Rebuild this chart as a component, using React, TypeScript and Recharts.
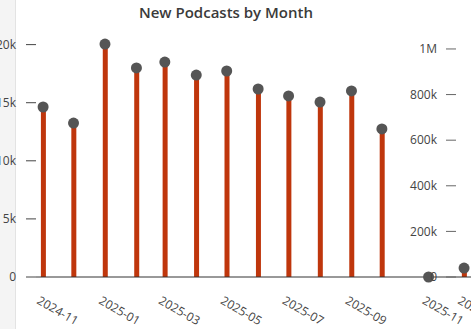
import { Bar, ComposedChart, Line, XAxis, YAxis } from "recharts";

const months = [
  "2024-11", "2024-12", "2025-01", "2025-02", "2025-03", "2025-04", "2025-05",
  "2025-06", "2025-07", "2025-08", "2025-09", "2025-10", "2025-11", "2025-12",
];
// point dates as placed on the time axis (the last two sit mid-month)
const pointDates = [
  "2024-11-01", "2024-12-01", "2025-01-01", "2025-02-01", "2025-03-01", "2025-04-01",
  "2025-05-01", "2025-06-01", "2025-07-01", "2025-08-01", "2025-09-01", "2025-10-01",
  "2025-11-16", "2025-12-21",
];
const newPodcasts = [
  14630, 13250, 20050, 17990, 18500, 17380, 17730, 16180, 15580, 15060, 16010, 12740, 0, 770,
];
const labelledMonths = ["2024-11", "2025-01", "2025-03", "2025-05", "2025-07", "2025-09", "2025-11", "2025-12"];
const leftTicks = [0, 5000, 10000, 15000, 20000];
const rightTicks = [0, 200000, 400000, 600000, 800000, 1000000];

const rows = months.map((month, i) => ({
  month,
  t: Date.parse(pointDates[i]),
  count: newPodcasts[i],
}));
const xTicks = rows.filter((r) => labelledMonths.includes(r.month)).map((r) => r.t);
const xDomain = [Date.parse("2024-10-25"), Date.parse("2026-02-24")];

const FONT = "'Open Sans', 'Segoe UI', sans-serif";
const BAR = "#bf360c";
const DOT = "#555555";

const fmtK = (v: number) => (v === 0 ? "0" : v >= 1000000 ? `${v / 1000000}M` : `${v / 1000}k`);

function MonthTick({ x, y, payload }: any) {
  const label = new Date(payload.value).toISOString().slice(0, 7);
  return (
    <text
      transform={`translate(${x - 7},${y + 18}) rotate(30)`}
      textAnchor="start"
      fontSize={12}
      fontFamily={FONT}
      fill="#444"
    >
      {label}
    </text>
  );
}

export default function App() {
  return (
    <div
      style={{
        position: "fixed",
        left: 0,
        top: 0,
        width: 471,
        height: 329,
        overflow: "hidden",
        background: "#fff",
      }}
    >
      <div
        style={{
          position: "absolute",
          left: 0,
          top: 0,
          width: 15,
          height: 329,
          background: "#f4f4f4",
          borderRight: "1px solid #e3e3e3",
        }}
      />
      <div
        style={{
          position: "absolute",
          left: 0,
          top: 2,
          width: 452,
          textAlign: "center",
          fontFamily: FONT,
          fontWeight: 600,
          fontSize: 15,
          lineHeight: "20px",
          color: "#3a3a3a",
        }}
      >
        New Podcasts by Month
      </div>

      <div style={{ position: "absolute", left: -30, top: 0 }}>
        <ComposedChart width={560} height={329} data={rows} margin={{ top: 33, right: 0, bottom: 0, left: 0 }}>
          <XAxis
            dataKey="t"
            type="number"
            scale="time"
            domain={xDomain}
            ticks={xTicks}
            tick={<MonthTick />}
            tickLine={false}
            axisLine={{ stroke: "#333" }}
            height={52}
            interval={0}
          />
          <YAxis
            type="number"
            domain={[0, 21000]}
            ticks={leftTicks}
            tickFormatter={fmtK}
            width={66}
            axisLine={false}
            tickSize={10}
            tickMargin={10}
            tickLine={{ stroke: "#444" }}
            tick={{ fontSize: 12, fontFamily: FONT, fill: "#444" }}
          />
          <Bar dataKey="count" fill={BAR} barSize={5} isAnimationActive={false} />
          <Line
            dataKey="count"
            stroke="none"
            dot={{ r: 5.5, fill: DOT, stroke: "none" }}
            activeDot={false}
            isAnimationActive={false}
          />
        </ComposedChart>
      </div>

      <div style={{ position: "absolute", left: 0, top: 0, pointerEvents: "none" }}>
        <ComposedChart width={471} height={329} data={rows} margin={{ top: 33, right: 15, bottom: 52, left: 0 }}>
          <XAxis dataKey="t" type="number" domain={xDomain} hide />
          <YAxis
            yAxisId="right"
            orientation="right"
            mirror
            type="number"
            domain={[0, 1070000]}
            ticks={rightTicks}
            tickFormatter={fmtK}
            axisLine={false}
            tickSize={10}
            tickMargin={9}
            tickLine={{ stroke: "#666" }}
            tick={{ fontSize: 12, fontFamily: FONT, fill: "#444" }}
          />
          {/* invisible series so the secondary axis is laid out */}
          <Line
            yAxisId="right"
            dataKey="count"
            stroke="none"
            dot={false}
            activeDot={false}
            legendType="none"
            isAnimationActive={false}
          />
        </ComposedChart>
      </div>
    </div>
  );
}
